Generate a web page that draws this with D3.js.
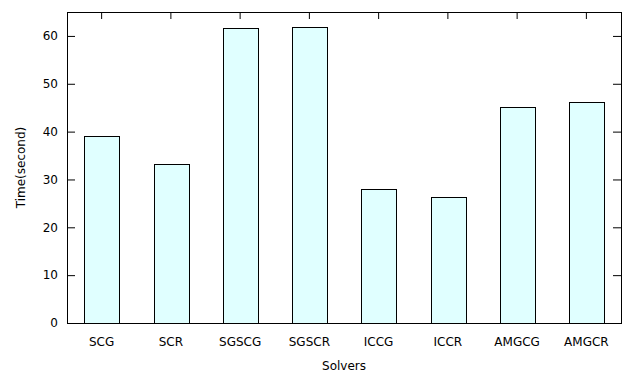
<!DOCTYPE html>
<html>
<head>
<meta charset="utf-8">
<script src="https://cdn.jsdelivr.net/npm/d3@7"></script>
<style>
  body { margin: 0; background: #fff; }
  svg { display: block; }
  text { font-family: "DejaVu Sans", sans-serif; font-size: 12px; fill: #000; }
</style>
</head>
<body>
<div id="chart"></div>
<script>
// solver names and measured times
const solvers = ["SCG", "SCR", "SGSCG", "SGSCR", "ICCG", "ICCR", "AMGCG", "AMGCR"];
const times = [39.1, 33.2, 61.7, 61.9, 28.0, 26.3, 45.2, 46.1];
const yTicks = [0, 10, 20, 30, 40, 50, 60];

const W = 630, H = 377;
const margin = {top: 12, right: 9, bottom: 54, left: 67};
const width = W - margin.left - margin.right;
const height = H - margin.top - margin.bottom;

const svg = d3.select("#chart").append("svg")
    .attr("width", W)
    .attr("height", H)
  .append("g")
    .attr("transform", "translate(" + margin.left + "," + margin.top + ")");

const x = d3.scaleBand()
    .domain(solvers)
    .range([0, width])
    .paddingInner(0.5)
    .paddingOuter(0.25);

const y = d3.scaleLinear()
    .domain([0, 65])
    .range([height, 0]);

const data = solvers.map((s, i) => ({name: s, value: times[i]}));

// bottom ticks (behind bars)
svg.append("g")
    .attr("transform", "translate(0," + height + ")")
    .call(d3.axisTop(x).tickSize(7).tickFormat(""))
    .call(g => g.select(".domain").remove());

// bars
svg.selectAll(".bar")
    .data(data)
    .enter()
    .append("rect")
    .attr("class", "bar")
    .attr("x", d => Math.round(x(d.name)) + 0.5)
    .attr("y", d => Math.round(y(d.value)) + 0.5)
    .attr("width", Math.round(x.bandwidth()))
    .attr("height", d => Math.round(height - y(d.value)))
    .style("fill", "#e0ffff")
    .style("stroke", "#000")
    .style("stroke-width", 1);

// left axis, ticks inward
svg.append("g")
    .call(d3.axisRight(y).tickValues(yTicks).tickSize(8).tickFormat(""))
    .call(g => g.select(".domain").remove());

svg.append("g")
    .selectAll("text")
    .data(yTicks)
    .enter()
    .append("text")
    .attr("x", -9)
    .attr("y", d => y(d))
    .attr("dy", "0.35em")
    .attr("text-anchor", "end")
    .text(d => d);

// right mirror ticks
svg.append("g")
    .attr("transform", "translate(" + width + ",0)")
    .call(d3.axisLeft(y).tickValues(yTicks).tickSize(8).tickFormat(""))
    .call(g => g.select(".domain").remove());

// top mirror ticks
svg.append("g")
    .call(d3.axisBottom(x).tickSize(7).tickFormat(""))
    .call(g => g.select(".domain").remove());

// x labels
svg.append("g")
    .selectAll("text")
    .data(solvers)
    .enter()
    .append("text")
    .attr("x", d => x(d) + x.bandwidth() / 2)
    .attr("y", height + 23)
    .attr("text-anchor", "middle")
    .text(d => d);

// frame
svg.append("rect")
    .attr("x", 0.5)
    .attr("y", 0.5)
    .attr("width", width)
    .attr("height", height)
    .style("fill", "none")
    .style("stroke", "#000")
    .style("stroke-width", 1);

svg.selectAll(".tick line").attr("stroke", "#000");

// axis titles
svg.append("text")
    .attr("text-anchor", "middle")
    .attr("x", width / 2)
    .attr("y", height + 47)
    .text("Solvers");

svg.append("text")
    .attr("text-anchor", "middle")
    .attr("transform", "translate(" + (-42) + "," + (height / 2) + ") rotate(-90)")
    .text("Time(second)");
</script>
</body>
</html>
